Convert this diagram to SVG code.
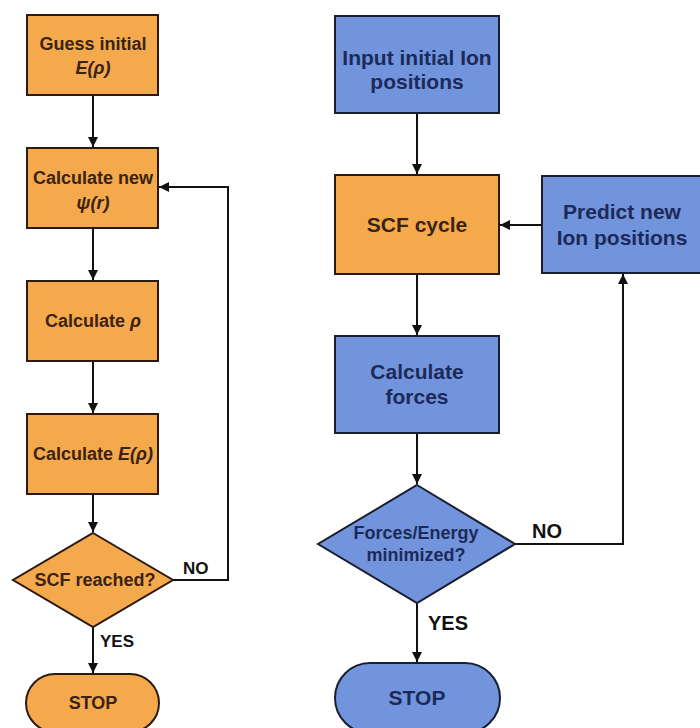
<svg xmlns="http://www.w3.org/2000/svg" width="700" height="728" viewBox="0 0 700 728">
<style>
.o{fill:#F5A94D;stroke:#2a1a10;stroke-width:2}
.b{fill:#7194DC;stroke:#1a1f30;stroke-width:2}
.tl{font-family:"Liberation Sans",Arial,sans-serif;font-weight:bold;font-size:18px;fill:#3a2312;text-anchor:middle}
.tr{font-family:"Liberation Sans",Arial,sans-serif;font-weight:bold;font-size:21px;fill:#1c2a5a;text-anchor:middle}
.td{font-size:18px}
.lb{font-family:"Liberation Sans",Arial,sans-serif;font-weight:bold;fill:#111;}
.c{fill:none;stroke:#111;stroke-width:2}
</style>
<defs>
<marker id="ah" viewBox="0 0 10 10" refX="10" refY="5" markerWidth="10" markerHeight="11" markerUnits="userSpaceOnUse" orient="auto">
<path d="M0,0 L10,5 L0,10 z" fill="#111"/>
</marker>
</defs>
<rect width="700" height="728" fill="#fff"/>
<g id="connectors">
<line class="c" x1="93" y1="95" x2="93" y2="147" marker-end="url(#ah)"/>
<line class="c" x1="93" y1="228" x2="93" y2="280" marker-end="url(#ah)"/>
<line class="c" x1="93" y1="361" x2="93" y2="413" marker-end="url(#ah)"/>
<line class="c" x1="93" y1="494" x2="93" y2="532" marker-end="url(#ah)"/>
<polyline class="c" points="173,580 228,580 228,187 159,187" marker-end="url(#ah)"/>
<line class="c" x1="93" y1="627" x2="93" y2="673" marker-end="url(#ah)"/>
<text class="lb" x="183" y="574" font-size="17">NO</text>
<text class="lb" x="100" y="647" font-size="17">YES</text>
<line class="c" x1="417" y1="113" x2="417" y2="174" marker-end="url(#ah)"/>
<line class="c" x1="542" y1="225" x2="500" y2="225" marker-end="url(#ah)"/>
<line class="c" x1="417" y1="274" x2="417" y2="335" marker-end="url(#ah)"/>
<line class="c" x1="417" y1="433" x2="417" y2="484" marker-end="url(#ah)"/>
<polyline class="c" points="515,544 623,544 623,274" marker-end="url(#ah)"/>
<line class="c" x1="417" y1="603" x2="417" y2="662" marker-end="url(#ah)"/>
<text class="lb" x="532" y="538" font-size="20">NO</text>
<text class="lb" x="428" y="630" font-size="20">YES</text>
</g>
<g id="guess">
<rect class="o" x="27" y="15" width="131" height="80"/>
<text class="tl" x="93" y="50">Guess initial</text>
<text class="tl" x="93" y="74" font-style="italic">E(ρ)</text>
</g>
<g id="calcpsi">
<rect class="o" x="27" y="148" width="131" height="80"/>
<text class="tl" x="93" y="184">Calculate new</text>
<text class="tl" x="93" y="209" font-style="italic">ψ(r)</text>
</g>
<g id="calcrho">
<rect class="o" x="27" y="281" width="131" height="80"/>
<text class="tl" x="93" y="327">Calculate <tspan font-style="italic">ρ</tspan></text>
</g>
<g id="calcE">
<rect class="o" x="27" y="414" width="131" height="80"/>
<text class="tl" x="93" y="460">Calculate <tspan font-style="italic">E(ρ)</tspan></text>
</g>
<g id="scfreached">
<polygon class="o" points="93,533 173,580 93,627 13,580"/>
<text class="tl" x="95" y="586">SCF reached?</text>
</g>
<g id="stop1">
<rect class="o" x="26" y="674" width="133" height="58" rx="29"/>
<text class="tl" x="93" y="709">STOP</text>
</g>
<g id="input">
<rect class="b" x="335" y="16" width="164" height="97"/>
<text class="tr" x="417" y="65">Input initial Ion</text>
<text class="tr" x="417" y="89">positions</text>
</g>
<g id="scfcycle">
<rect class="o" x="335" y="175" width="164" height="99"/>
<text class="tr" x="417" y="232" style="fill:#3a2312">SCF cycle</text>
</g>
<g id="predict">
<rect class="b" x="542" y="176" width="160" height="97"/>
<text class="tr" x="622" y="219">Predict new</text>
<text class="tr" x="622" y="245">Ion positions</text>
</g>
<g id="forces">
<rect class="b" x="335" y="336" width="164" height="97"/>
<text class="tr" x="417" y="379">Calculate</text>
<text class="tr" x="417" y="404">forces</text>
</g>
<g id="minimized">
<polygon class="b" points="417,485 515,544 417,603 318,544"/>
<text class="tr td" x="416" y="539">Forces/Energy</text>
<text class="tr td" x="416" y="561">minimized?</text>
</g>
<g id="stop2">
<rect class="b" x="335" y="663" width="165" height="70" rx="35"/>
<text class="tr" x="417" y="705">STOP</text>
</g>
</svg>
